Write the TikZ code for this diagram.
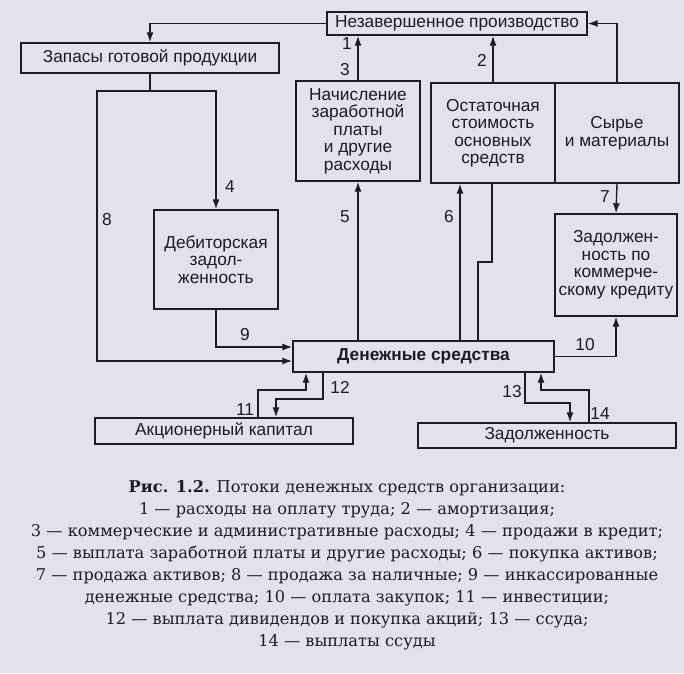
\documentclass[tikz,border=0pt]{standalone}
\usepackage{fontspec}
\setmainfont{DejaVu Serif}
\newfontfamily\diafont{Liberation Sans}
\usetikzlibrary{arrows.meta,calc}
\definecolor{paper}{RGB}{226,226,236}
\definecolor{ink}{RGB}{28,28,36}
\tikzset{
  box/.style={draw=ink, line width=1.4pt, inner sep=0pt, align=center, text=ink,
    font=\diafont\fontsize{17.3}{17.5}\selectfont},
  arr/.style={draw=ink, line width=1.4pt, -{Latex[length=10pt,width=7pt]}},
  ln/.style={draw=ink, line width=1.4pt},
  lbl/.style={text=ink, inner sep=0pt, font=\diafont\fontsize{17.3}{17.5}\selectfont},
  captext/.style={text=ink, inner sep=0pt, font=\fontsize{16.2}{22}\selectfont, align=center}
}
\begin{document}
\begin{tikzpicture}[x=1pt,y=-1pt]
\fill[paper] (0,0) rectangle (684,673);
\useasboundingbox (0,0) rectangle (684,673);
% boxes
\node[box, minimum width=260pt, minimum height=23pt] (np) at (457,23.5) {Незавершенное производство};
\node[box, minimum width=258pt, minimum height=30pt] (zap) at (150,58) {Запасы готовой продукции};
\node[box, minimum width=124pt, minimum height=100pt] (nach) at (358,131) {Начисление\\заработной\\платы\\и другие\\расходы};
\node[box, minimum width=124pt, minimum height=100pt] (ost) at (493,133) {Остаточная\\стоимость\\основных\\средств};
\node[box, minimum width=124pt, minimum height=100pt] (syr) at (617,133) {Сырье\\и материалы};
\node[box, minimum width=122pt, minimum height=102pt] (zad) at (616,265) {Задолжен-\\ность по\\коммерче-\\скому кредиту};
\node[box, minimum width=124pt, minimum height=99pt] (deb) at (216,259.5) {Дебиторская\\задол-\\женность};
\node[box, minimum width=261pt, minimum height=31pt, font=\diafont\bfseries\fontsize{17.3}{17.5}\selectfont] (den) at (423.5,356.5) {Денежные средства};
\node[box, minimum width=258pt, minimum height=26pt] (akc) at (224,431) {Акционерный капитал};
\node[box, minimum width=258pt, minimum height=25pt] (zd) at (547,435.5) {Задолженность};
% connectors
\draw[arr] (np.west) -| (zap.north);
\draw[arr] (nach.north) -- (nach.north |- np.south);
\draw[arr] (ost.north) -- (ost.north |- np.south);
\draw[arr] (syr.north) |- (np.east);
\coordinate (split) at (150,91);
\draw[ln] (zap.south) -- (split);
\draw[arr] (split) -| (97,361) -- (den.west |- 0,361);
\draw[arr] (split) -| (deb.north);
\draw[arr] (deb.south) |- (den.west |- 0,347);
\draw[arr] (den.north -| nach.south) -- (nach.south);
\draw[arr] (den.north -| 460,0) -- (ost.south -| 460,0);
\draw[ln] (ost.south -| 492,0) -- (492,262) -- (478,262) -- (den.north -| 478,0);
\draw[arr] (syr.south) -- (zad.north);
\draw[arr] (den.east) -| (zad.south);
\draw[arr] (akc.north -| 258,0) |- (306,390) -- (den.south -| 306,0);
\draw[arr] (den.south -| 323,0) |- (276,399) -- (akc.north -| 276,0);
\draw[arr] (den.south -| 525,0) |- (570,403) -- (zd.north -| 570,0);
\draw[arr] (zd.north -| 589,0) |- (541,390) -- (den.south -| 541,0);
% labels
\node[lbl] (l1) at (347,44) {1};
\node[lbl] (l3) at (345,70) {3};
\node[lbl] (l2) at (482,60) {2};
\node[lbl] (l4) at (230,187) {4};
\node[lbl] (l8) at (107,220) {8};
\node[lbl] (l5) at (345,217) {5};
\node[lbl] (l6) at (449,217) {6};
\node[lbl] (l7) at (605,197) {7};
\node[lbl] (l9) at (245,335) {9};
\node[lbl] (l10) at (585,345) {10};
\node[lbl] (l11) at (245,410) {11};
\node[lbl] (l12) at (340,387) {12};
\node[lbl] (l13) at (512,392) {13};
\node[lbl] (l14) at (600,414) {14};
% caption
\node[captext, anchor=north] (caption) at (347,480) {\textbf{Рис. 1.2.} Потоки денежных средств организации:\\
1 --- расходы на оплату труда; 2 --- амортизация;\\
3 --- коммерческие и административные расходы; 4 --- продажи в кредит;\\
5 --- выплата заработной платы и другие расходы; 6 --- покупка активов;\\
7 --- продажа активов; 8 --- продажа за наличные; 9 --- инкассированные\\
денежные средства; 10 --- оплата закупок; 11 --- инвестиции;\\
12 --- выплата дивидендов и покупка акций; 13 --- ссуда;\\
14 --- выплаты ссуды};
\end{tikzpicture}
\end{document}
